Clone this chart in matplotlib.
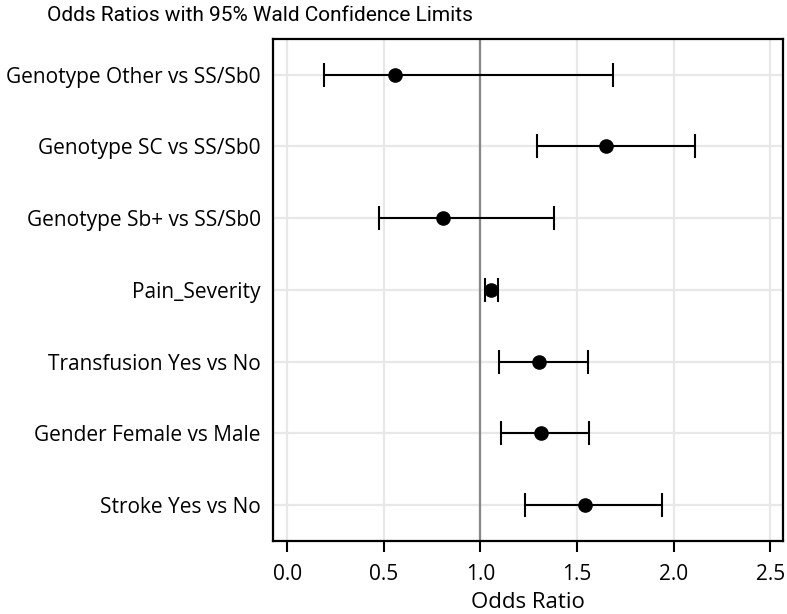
import matplotlib.pyplot as plt

# effects listed top to bottom
effects = ["Genotype Other vs SS/Sb0", "Genotype SC vs SS/Sb0", "Genotype Sb+ vs SS/Sb0",
           "Pain_Severity", "Transfusion Yes vs No", "Gender Female vs Male", "Stroke Yes vs No"]
odds = [0.559, 1.650, 0.806, 1.056, 1.305, 1.313, 1.543]
lower = [0.188, 1.292, 0.476, 1.023, 1.096, 1.106, 1.230]
upper = [1.687, 2.108, 1.379, 1.089, 1.556, 1.562, 1.938]
xticks = [0.0, 0.5, 1.0, 1.5, 2.0, 2.5]

plt.rcParams['font.family'] = ['Open Sans', 'DejaVu Sans']

fig = plt.figure(figsize=(7.87, 6.14), dpi=100)
ax = fig.add_axes([0.3473, 0.1194, 0.648, 0.8171])

ypos = list(range(len(effects)))
err = [[o - l for o, l in zip(odds, lower)], [u - o for u, o in zip(upper, odds)]]

ax.axvline(1.0, color='#888888', lw=1.6, zorder=2)
ax.errorbar(odds, ypos, xerr=err, fmt='o', color='black', ms=9.5, lw=1.5,
            capsize=8.4, capthick=1.5, zorder=3)

ax.set_xlim(-0.072, 2.567)
ax.set_ylim(6.5, -0.5)
ax.set_xticks(xticks)
ax.set_xticklabels([f"{t:.1f}" for t in xticks], fontsize=15)
ax.set_yticks(ypos)
ax.set_yticklabels(effects, fontsize=15)
ax.tick_params(axis='y', length=0, pad=9)
ax.tick_params(axis='x', length=8, width=1.5, direction='out', pad=9)
ax.grid(True, color='#e8e8e8', lw=1.6, zorder=0)
ax.set_axisbelow(True)
for s in ax.spines.values():
    s.set_linewidth(1.6)

ax.set_xlabel("Odds Ratio", fontsize=16, labelpad=5)
fig.text(0.330, 0.974, "Odds Ratios with 95% Wald Confidence Limits",
         ha='center', va='center', fontsize=15, family=['Roboto', 'DejaVu Sans'])

fig.savefig("out.png", dpi=100)
